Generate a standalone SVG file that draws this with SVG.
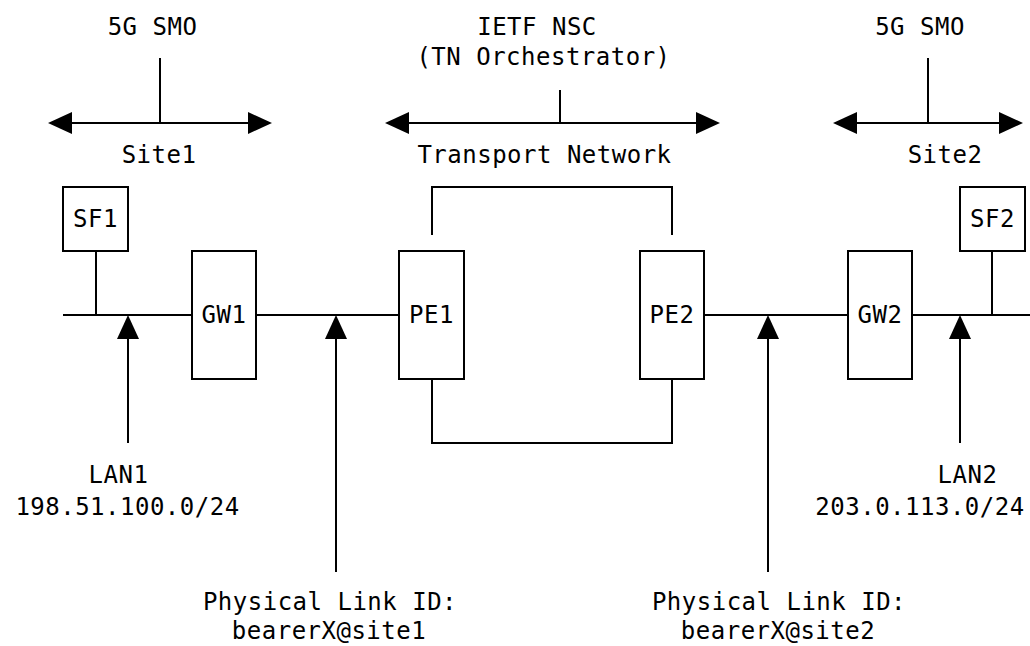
<svg xmlns="http://www.w3.org/2000/svg" width="1030" height="646" viewBox="0 0 1030 646">
  <defs>
    <style>
      .t { font-family: "DejaVu Sans Mono", "Liberation Mono", monospace; font-size: 24px; letter-spacing: 0.5px; fill: #000; text-anchor: middle; }
      .ln { stroke: #000; stroke-width: 2; fill: none; }
      .box { stroke: #000; stroke-width: 2; fill: #fff; }
    </style>
    <marker id="ah" viewBox="0 0 24 22" refX="0" refY="11" markerWidth="24" markerHeight="22" markerUnits="userSpaceOnUse" orient="auto-start-reverse">
      <path d="M0,0 L24,11 L0,22 z" fill="#000"/>
    </marker>
  </defs>
  <rect width="1030" height="646" fill="#fff"/>

  <g id="labels">
    <text class="t" x="152.5" y="35">5G SMO</text>
    <text class="t" x="159" y="163">Site1</text>
    <text class="t" x="537" y="35">IETF NSC</text>
    <text class="t" x="543.5" y="65">(TN Orchestrator)</text>
    <text class="t" x="544.5" y="163">Transport Network</text>
    <text class="t" x="920" y="35">5G SMO</text>
    <text class="t" x="945" y="163">Site2</text>
    <text class="t" x="118.5" y="483">LAN1</text>
    <text class="t" x="127.5" y="515">198.51.100.0/24</text>
    <text class="t" x="967.5" y="483">LAN2</text>
    <text class="t" x="920" y="515">203.0.113.0/24</text>
    <text class="t" x="330" y="610">Physical Link ID:</text>
    <text class="t" x="329" y="639">bearerX@site1</text>
    <text class="t" x="779" y="610">Physical Link ID:</text>
    <text class="t" x="778" y="639">bearerX@site2</text>
  </g>

  <g id="connectors">
    <line class="ln" x1="160" y1="58" x2="160" y2="123"/>
    <line class="ln" x1="72" y1="123" x2="248" y2="123" marker-start="url(#ah)" marker-end="url(#ah)"/>
    <line class="ln" x1="560" y1="90" x2="560" y2="123"/>
    <line class="ln" x1="409" y1="123" x2="696" y2="123" marker-start="url(#ah)" marker-end="url(#ah)"/>
    <line class="ln" x1="928" y1="58" x2="928" y2="123"/>
    <line class="ln" x1="857" y1="123" x2="999" y2="123" marker-start="url(#ah)" marker-end="url(#ah)"/>

    <line class="ln" x1="63" y1="315" x2="192" y2="315"/>
    <line class="ln" x1="96" y1="251" x2="96" y2="315"/>
    <line class="ln" x1="256" y1="315" x2="399" y2="315"/>
    <line class="ln" x1="704" y1="315" x2="848" y2="315"/>
    <line class="ln" x1="912" y1="315" x2="1030" y2="315"/>
    <line class="ln" x1="992" y1="251" x2="992" y2="315"/>

    <polyline class="ln" points="432,235 432,187 672,187 672,235"/>
    <polyline class="ln" points="432,379 432,443 672,443 672,379"/>

    <line class="ln" x1="128" y1="443" x2="128" y2="339" marker-end="url(#ah)"/>
    <line class="ln" x1="336" y1="572" x2="336" y2="339" marker-end="url(#ah)"/>
    <line class="ln" x1="768" y1="572" x2="768" y2="339" marker-end="url(#ah)"/>
    <line class="ln" x1="960" y1="443" x2="960" y2="339" marker-end="url(#ah)"/>
  </g>

  <g id="SF1">
    <rect class="box" x="63" y="187" width="65" height="64"/>
    <text class="t" x="95.5" y="227">SF1</text>
  </g>
  <g id="GW1">
    <rect class="box" x="192" y="251" width="64" height="128"/>
    <text class="t" x="224" y="323">GW1</text>
  </g>
  <g id="PE1">
    <rect class="box" x="399" y="251" width="65" height="128"/>
    <text class="t" x="431.5" y="323">PE1</text>
  </g>
  <g id="PE2">
    <rect class="box" x="640" y="251" width="64" height="128"/>
    <text class="t" x="672" y="323">PE2</text>
  </g>
  <g id="GW2">
    <rect class="box" x="848" y="251" width="64" height="128"/>
    <text class="t" x="880" y="323">GW2</text>
  </g>
  <g id="SF2">
    <rect class="box" x="960" y="187" width="65" height="64"/>
    <text class="t" x="992.5" y="227">SF2</text>
  </g>
</svg>
